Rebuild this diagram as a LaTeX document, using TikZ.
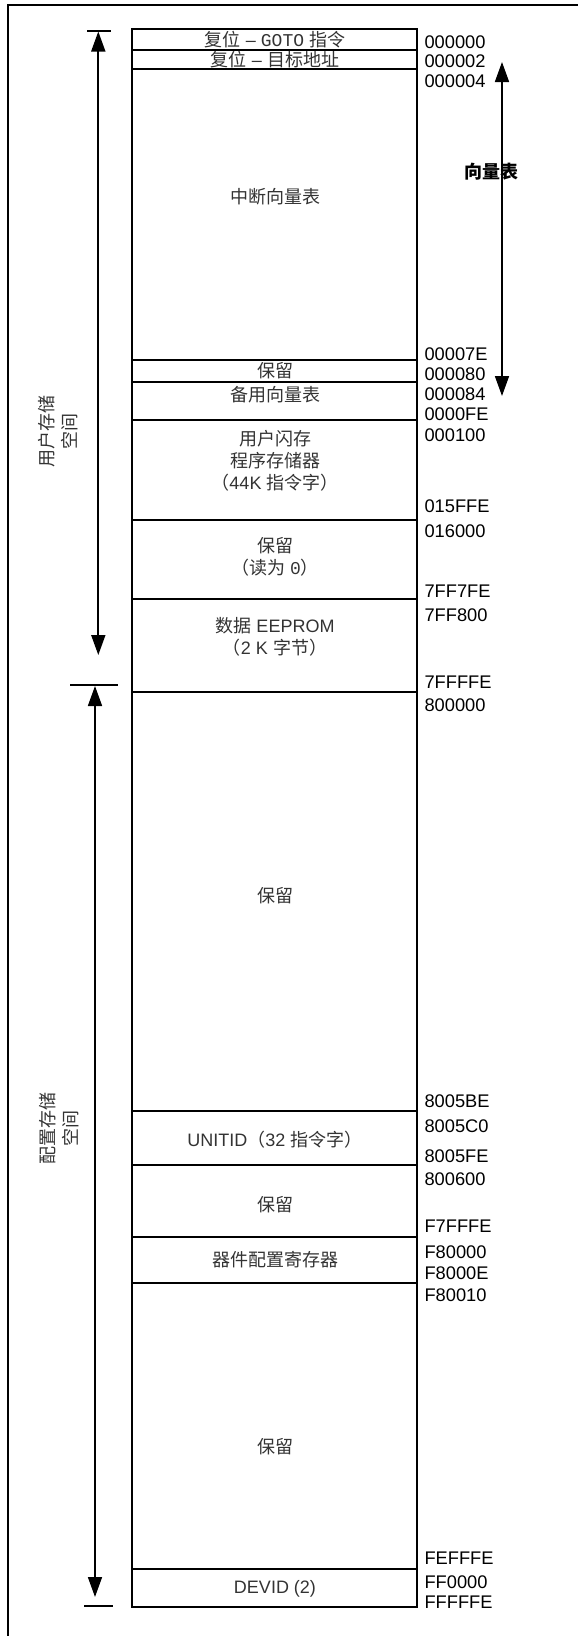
\documentclass[tikz,border=0pt]{standalone}
\usepackage{fontspec}
\setmainfont{Liberation Sans}
\newfontfamily\cjk{Noto Sans CJK SC}
\newfontfamily\monof{Liberation Mono}
\usetikzlibrary{arrows.meta}
\begin{document}
\begin{tikzpicture}[x=0.75pt,y=-0.75pt,line width=1.3pt,
  memline/.style={draw=black,line width=1.3pt},
  boxtxt/.style={font=\fontsize{13.5}{16.5}\selectfont,text=black!80,inner sep=0pt,align=center},
  addr/.style={font=\fontsize{13.7}{16}\selectfont,anchor=base west,inner sep=0pt},
  sidetxt/.style={font=\cjk\fontsize{13.5}{17.5}\selectfont,text=black!80,inner sep=0pt,align=center,rotate=90},
  dimarrow/.style={line width=1.3pt,{Triangle[length=15pt,width=10.5pt]}-{Triangle[length=15pt,width=10.5pt]}},
  ticks/.style={line width=1.3pt}]
\useasboundingbox (0,0) rectangle (578,1636);
% outer frame (only left and top visible)
\coordinate (fbl) at (8.3,1640);
\coordinate (ftl) at (8.3,5);
\coordinate (ftr) at (580,5);
\draw[line width=1.3pt] (fbl) -- (ftl) -- (ftr);
% memory column
\draw[memline] (132,29) rectangle (417,1607.3);
\foreach \yy in {49.7,69,360,381.7,420,520,599,692,1111,1165,1236.7,1283.3,1569}
  \draw[memline] (132,\yy) -- (417,\yy);
% box texts
\node[boxtxt] (r1) at (275,39.5) {{\cjk 复位} – {\monof GOTO} {\cjk 指令}};
\node[boxtxt] (r2) at (275,59.5) {{\cjk 复位} – {\cjk 目标地址}};
\node[boxtxt] (r3) at (275,196.5) {\cjk 中断向量表};
\node[boxtxt] (r4) at (275,371) {\cjk 保留};
\node[boxtxt] (r5) at (275,395) {\cjk 备用向量表};
\node[boxtxt] (r6) at (275,461) {{\cjk 用户闪存}\\{\cjk 程序存储器}\\{\cjk （}44K {\cjk 指令字）}};
\node[boxtxt] (r7) at (275,556.5) {{\cjk 保留}\\{\cjk （读为} {\monof 0}{\cjk ）}};
\node[boxtxt] (r8) at (275,637) {{\cjk 数据} EEPROM\\{\cjk （}2 K {\cjk 字节）}};
\node[boxtxt] (r9) at (275,896) {\cjk 保留};
\node[boxtxt] (r10) at (275,1140) {UNITID{\cjk （}32 {\cjk 指令字）}};
\node[boxtxt] (r11) at (275,1205) {\cjk 保留};
\node[boxtxt] (r12) at (275,1259.5) {\cjk 器件配置寄存器};
\node[boxtxt] (r13) at (275,1447) {\cjk 保留};
\node[boxtxt] (r14) at (275,1588.5) {DEVID (2)};
% addresses
\foreach \lab/\yy [count=\i] in {000000/48,000002/67,000004/87,00007E/360,000080/380,000084/400,0000FE/420,000100/441,015FFE/512,016000/537,7FF7FE/597,7FF800/621,7FFFFE/688,800000/711,8005BE/1107,8005C0/1132,8005FE/1162,800600/1185,F7FFFE/1232,F80000/1258,F8000E/1279,F80010/1301,FEFFFE/1564,FF0000/1588,FFFFFE/1608}
  \node[addr] (a\i) at (423.7,\yy) {\lab};
% side labels
\node[sidetxt] (usr) at (58,431) {用户存储\\空间};
\node[sidetxt] (cfg) at (59,1128.5) {配置存储\\空间};
% vector table label and arrow
\node[font=\cjk\bfseries\fontsize{13.5}{16}\selectfont,inner sep=0pt] (vt) at (491.7,171.5) {向量表};
\coordinate (vtt) at (502,62);
\coordinate (vtb) at (502,396);
\draw[dimarrow] (vtt) -- (vtb);
% user space arrow
\coordinate (ut1) at (87,31);
\coordinate (ut2) at (110.7,31);
\coordinate (ua) at (98.3,31.5);
\coordinate (ub) at (98.3,655);
\draw[ticks] (ut1) -- (ut2);
\draw[dimarrow] (ua) -- (ub);
% config space arrow
\coordinate (ct1) at (70,685);
\coordinate (ct2) at (118.3,685);
\coordinate (ca) at (95,686);
\coordinate (cb) at (95,1597);
\coordinate (cb1) at (84,1605.7);
\coordinate (cb2) at (112.7,1605.7);
\draw[ticks] (ct1) -- (ct2);
\draw[ticks] (cb1) -- (cb2);
\draw[dimarrow] (ca) -- (cb);
\end{tikzpicture}
\end{document}
